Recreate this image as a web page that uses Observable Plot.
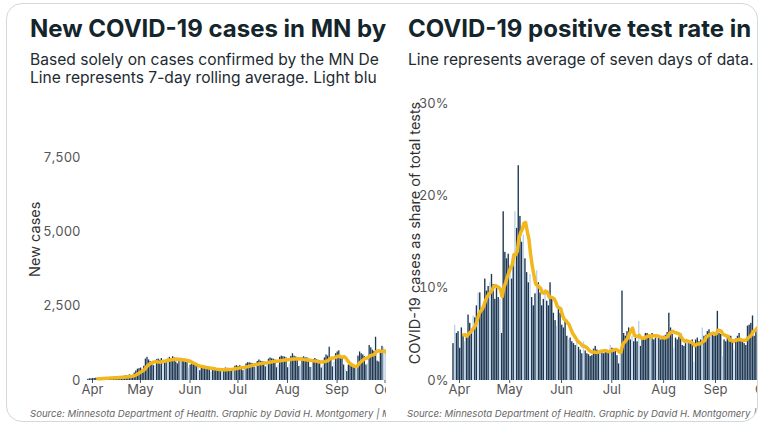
<!DOCTYPE html>
<html><head><meta charset="utf-8">
<script src="https://cdn.jsdelivr.net/npm/d3@7"></script>
<script src="https://cdn.jsdelivr.net/npm/@observablehq/plot@0.6"></script>
<style>
body{margin:0;background:#fff;font-family:Inter,"Noto Sans",sans-serif;}
#card{position:absolute;left:6px;top:3px;width:752px;height:419px;border:1px solid #cfd9de;border-radius:16px;overflow:hidden;background:#fff;box-sizing:border-box;}
.panel{position:absolute;top:0;height:100%;overflow:hidden;}
.title{position:absolute;white-space:nowrap;font-weight:700;font-size:24px;line-height:24px;color:#14262c;}
.sub{position:absolute;white-space:nowrap;font-size:15.6px;line-height:16px;color:#1e2b31;}
.src{position:absolute;white-space:nowrap;font-style:italic;font-size:9.6px;line-height:10px;color:#666;}
.chart{position:absolute;}
.chart svg{max-width:none !important;overflow:visible;}
g[aria-label="y-axis label"]{font-size:14.5px;color:#333;fill:#333;}
</style></head><body>
<div id="card">
  <div class="panel" id="leftPanel" style="left:0;width:379px">
    <div class="title" style="left:23px;top:13px">New COVID-19 cases in MN by</div>
    <div class="sub" style="left:23px;top:48px">Based solely on cases confirmed by the MN De</div>
    <div class="sub" style="left:23px;top:66px">Line represents 7-day rolling average. Light blu</div>
    <div class="chart" id="leftChart" style="left:0;top:86px"></div>
    <div class="src" style="left:23px;top:405px">Source: Minnesota Department of Health. Graphic by David H. Montgomery | MPR News</div>
  </div>
  <div class="panel" id="rightPanel" style="left:390px;width:361px">
    <div class="title" style="left:11px;top:13px">COVID-19 positive test rate in M</div>
    <div class="sub" style="left:11px;top:48px">Line represents average of seven days of data.</div>
    <div class="chart" id="rightChart" style="left:0;top:66px"></div>
    <div class="src" style="left:10px;top:405px">Source: Minnesota Department of Health. Graphic by David H. Montgomery | MPR News</div>
  </div>
</div>
<script>
// ---- data ----
const monthTicks = ["2020-04-01","2020-05-01","2020-06-01","2020-07-01","2020-08-01","2020-09-01","2020-10-01"];
const caseTicks = [0, 2500, 5000, 7500];
const rateTicks = [0, 10, 20, 30];

// Daily new cases, starting 2020-03-29
const casesStart = "2020-03-29";
const casesValues = [
  40, 55, 60, 70, 65, 80, 50,
  45, 70, 85, 95, 90, 100, 75,
  60, 95, 110, 120, 115, 130, 90,
  80, 120, 150, 160, 140, 190, 130,
  160, 250, 320, 380, 400, 420, 330,
  480, 720, 780, 690, 640, 560, 500,
  520, 700, 720, 680, 740, 660, 580,
  610, 760, 780, 740, 800, 760, 620,
  560, 640, 780, 730, 700, 720, 600,
  420, 520, 560, 540, 520, 480, 420,
  330, 450, 480, 460, 440, 420, 360,
  280, 380, 410, 390, 380, 370, 310,
  290, 400, 420, 410, 400, 390, 330,
  340, 480, 500, 470, 500, 460, 330,
  380, 560, 600, 590, 580, 560, 440,
  430, 640, 690, 650, 640, 620, 460,
  500, 720, 760, 730, 720, 690, 430,
  520, 780, 820, 800, 790, 760, 430,
  560, 810, 900, 820, 790, 760, 470,
  520, 760, 800, 760, 760, 720, 440,
  440, 700, 740, 700, 680, 660, 420,
  500, 760, 860, 820, 1120, 760, 460,
  620, 900, 960, 1000, 820, 760, 520,
  360, 300, 520, 600, 560, 540, 420,
  380, 820, 960, 900, 860, 800, 520,
  560, 1180, 1100, 1020, 980, 1455, 650,
  620, 1010, 1150, 1100, 900, 700, 400
];
const casesLight = ["2020-05-10","2020-05-15","2020-05-18","2020-05-26","2020-05-31","2020-06-06",
  "2020-06-14","2020-06-21","2020-06-28","2020-07-05","2020-07-12","2020-07-19","2020-07-26",
  "2020-08-02","2020-08-09","2020-08-16","2020-08-23","2020-08-30","2020-09-06","2020-09-13",
  "2020-09-20","2020-09-30","2020-10-01","2020-10-02","2020-10-03"];

// Daily positive test rate (%), starting 2020-03-28
const rateStart = "2020-03-28";
const rateValues = [
  4.0, 6.0, 5.1, 5.3, 3.5, 5.7, 5.0,
  4.2, 4.8, 7.1, 6.2, 5.4, 7.0, 6.8,
  8.1, 9.5, 9.5, 7.6, 8.1, 11.0, 9.7,
  10.2, 10.6, 11.5, 10.4, 8.8, 10.1, 9.0,
  8.8, 5.1, 18.3, 13.9, 13.2, 13.7, 12.5,
  11.0, 12.8, 18.3, 16.5, 23.3, 17.8, 15.0,
  15.8, 13.2, 11.7, 10.6, 11.5, 9.0, 8.1,
  9.4, 11.9, 10.6, 9.5, 8.1, 8.8, 9.7,
  8.6, 8.1, 10.6, 9.0, 7.3, 6.5, 5.9,
  7.9, 7.3, 6.0, 5.7, 6.4, 4.8, 4.4,
  4.6, 4.2, 4.0, 3.8, 4.4, 3.6, 3.3,
  2.9, 4.2, 3.2, 2.9, 2.8, 2.6, 2.7,
  3.4, 3.7, 3.3, 3.1, 3.3, 3.0, 2.9,
  3.3, 3.2, 3.1, 3.8, 3.5, 3.4, 3.3,
  2.7, 1.8, 2.9, 9.7, 5.1, 4.8, 5.3,
  5.7, 4.4, 4.8, 4.2, 4.6, 4.2, 6.4,
  3.7, 4.4, 4.6, 5.1, 5.1, 4.8, 4.9,
  5.1, 4.4, 4.6, 4.9, 4.6, 4.4, 4.5,
  4.8, 4.9, 5.2, 7.3, 5.7, 5.0, 3.5,
  4.6, 4.4, 4.7, 5.1, 3.8, 3.7, 4.0,
  4.2, 4.0, 4.2, 4.4, 2.0, 4.4, 4.6,
  4.2, 4.4, 5.7, 4.8, 4.9, 5.3, 5.5,
  4.9, 5.0, 4.8, 5.1, 7.5, 5.1, 5.0,
  2.6, 4.4, 4.2, 4.9, 4.6, 4.8, 4.2,
  3.3, 4.5, 4.8, 5.1, 4.2, 4.4, 4.0,
  3.8, 5.9, 6.0, 6.2, 7.0, 4.8, 5.5,
  4.9, 4.6, 5.2, 5.0, 5.4, 5.1
];
const rateLight = ["2020-03-29","2020-04-04","2020-04-09","2020-04-12","2020-04-19","2020-04-25",
  "2020-05-01","2020-05-04","2020-05-09","2020-05-13","2020-05-17","2020-05-22","2020-05-29",
  "2020-06-05","2020-06-10","2020-06-14","2020-06-24","2020-06-30","2020-07-06","2020-07-13",
  "2020-07-17","2020-07-24","2020-07-28","2020-08-07","2020-08-15","2020-08-19","2020-08-24",
  "2020-08-29","2020-09-05","2020-09-12","2020-09-27"];

// ---- styles ----
const DARK = "#1c3753";
const LIGHT = "#bcd2e7";
const GOLD = "#f2b71c";

const fmtDay = d3.utcFormat("%Y-%m-%d");
function rows(start, values, light) {
  const s = new Date(start + "T00:00:00Z");
  const L = new Set(light);
  return values.map((v, i) => {
    const date = d3.utcDay.offset(s, i);
    return {date, next: d3.utcDay.offset(date, 1), mid: d3.utcHour.offset(date, 12), value: v, light: L.has(fmtDay(date))};
  });
}
const cases = rows(casesStart, casesValues, casesLight);
const rate = rows(rateStart, rateValues, rateLight);
const ticks = monthTicks.map(s => new Date(s + "T00:00:00Z"));
const xDomain = [ticks[0], ticks[ticks.length - 1]];

function chart(data, o) {
  return Plot.plot({
    width: o.width, height: o.height,
    marginLeft: o.ml, marginTop: o.mt, marginBottom: o.mb, marginRight: 0,
    style: {fontFamily: "Inter, 'Noto Sans', sans-serif", fontSize: "13px", color: "#555", background: "transparent", maxWidth: "none", overflow: "visible"},
    x: {type: "utc", domain: xDomain, range: o.xr, ticks: ticks, tickFormat: d3.utcFormat("%b"), tickSize: 3, tickPadding: 1, label: null},
    y: {domain: o.yd, ticks: o.yt, tickFormat: o.yf, tickSize: 0, tickPadding: 6, label: o.label, labelAnchor: "center", labelOffset: o.lo, labelArrow: "none"},
    marks: [
      Plot.rectY(data.filter(d => !d.light), {x1: "date", x2: "next", y: "value", fill: DARK, insetRight: 0.3}),
      Plot.rectY(data.filter(d => d.light), {x1: "date", x2: "next", y: "value", fill: LIGHT, insetRight: 0.3}),
      Plot.lineY(data, Plot.windowY({k: 7, anchor: "end", reduce: "mean", strict: true}, {x: "mid", y: "value", stroke: GOLD, strokeWidth: 3.5, strokeLinejoin: "round", strokeLinecap: "round"}))
    ]
  });
}

document.getElementById("leftChart").append(chart(cases, {
  width: 420, height: 320, ml: 79, mt: 7.6, mb: 30, xr: [85, 377.5],
  yd: [0, 9500], yt: caseTicks, yf: d3.format(","), label: "New cases", lo: 57
}));
document.getElementById("rightChart").append(chart(rate, {
  width: 400, height: 340, ml: 57, mt: 15, mb: 30, xr: [62, 368.2],
  yd: [0, 32], yt: rateTicks, yf: d => d + "%", label: "COVID-19 cases as share of total tests", lo: 45
}));
</script>
</body></html>
